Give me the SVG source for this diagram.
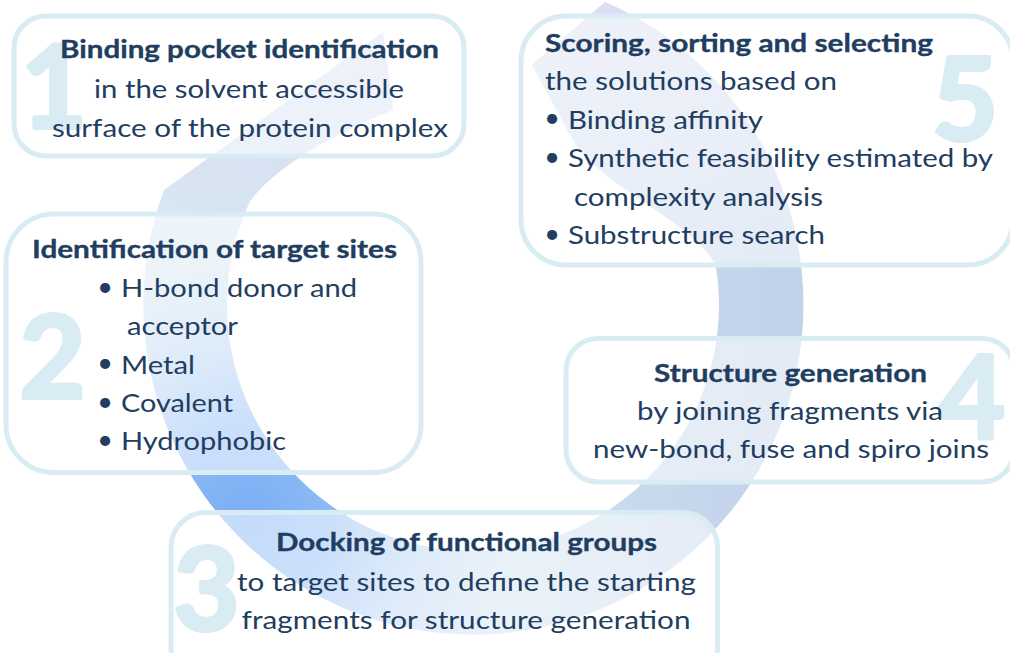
<svg xmlns="http://www.w3.org/2000/svg" width="1010" height="653" viewBox="0 0 1010 653">
<style>
.t{font-family:Lato,"Liberation Sans",sans-serif;fill:#213d5f;font-size:25px}
.b{font-weight:bold;stroke:#213d5f;stroke-width:0.35}
.c{text-anchor:middle}
.bu{font-family:Lato,"Liberation Sans",sans-serif;fill:#213d5f;font-size:27px;text-anchor:middle}
.n{font-family:Lato,"Liberation Sans",sans-serif;font-weight:bold;font-size:114px;fill:#d9ecf3;stroke:#d9ecf3;stroke-width:4;stroke-linejoin:round;text-anchor:middle}
.box{fill:#ffffff;fill-opacity:0.55;stroke:#d9ecf3;stroke-width:5}
</style>
<defs>
<linearGradient id="gBase" gradientUnits="userSpaceOnUse" x1="170" y1="250" x2="780" y2="250">
<stop offset="0" stop-color="#d7e7f2"/>
<stop offset="0.6" stop-color="#cddff0"/>
<stop offset="1" stop-color="#c2d2ea"/>
</linearGradient>
<linearGradient id="gTop" gradientUnits="userSpaceOnUse" x1="0" y1="0" x2="0" y2="260">
<stop offset="0" stop-color="#dcdff3" stop-opacity="1"/>
<stop offset="1" stop-color="#dcdff3" stop-opacity="0"/>
</linearGradient>
<radialGradient id="gBlue" gradientUnits="userSpaceOnUse" cx="245" cy="515" r="260">
<stop offset="0" stop-color="#7aaef4" stop-opacity="1"/>
<stop offset="0.35" stop-color="#8ab8f5" stop-opacity="0.95"/>
<stop offset="1" stop-color="#a9cbf5" stop-opacity="0"/>
</radialGradient>
<path id="ring" d="M383,32 L164,190 A330,330 0 1 0 605,2 L532,65 L573,140 C598,186 711,231 716.6,270.8 A246,246 0 1 1 250,201 C275,168 330,135 393,110 Z"/>
</defs>
<g id="connectors">
<use href="#ring" fill="url(#gBase)"/>
<use href="#ring" fill="url(#gTop)"/>
<use href="#ring" fill="url(#gBlue)"/>
</g>
<g id="node1">
<rect class="box" x="14" y="16" width="450" height="140" rx="32"/>
<text class="n" x="54" y="128">1</text>
<text class="t b c" x="249.5" y="58" textLength="379" lengthAdjust="spacingAndGlyphs">Binding pocket identification</text>
<text class="t c" x="249" y="98" textLength="310" lengthAdjust="spacingAndGlyphs">in the solvent accessible</text>
<text class="t c" x="250" y="137" textLength="396" lengthAdjust="spacingAndGlyphs">surface of the protein complex</text>
</g>
<g id="node5">
<rect class="box" x="521" y="16" width="492" height="249" rx="45"/>
<text class="n" x="965" y="140">5</text>
<text class="t b" x="545" y="52" textLength="388" lengthAdjust="spacingAndGlyphs">Scoring, sorting and selecting</text>
<text class="t" x="545" y="90" textLength="292" lengthAdjust="spacingAndGlyphs">the solutions based on</text>
<text class="bu" x="552" y="127">•</text>
<text class="t" x="568" y="128.5" textLength="195" lengthAdjust="spacingAndGlyphs">Binding affinity</text>
<text class="bu" x="552" y="165.5">•</text>
<text class="t" x="568" y="167" textLength="425" lengthAdjust="spacingAndGlyphs">Synthetic feasibility estimated by</text>
<text class="t" x="574" y="205.5" textLength="249" lengthAdjust="spacingAndGlyphs">complexity analysis</text>
<text class="bu" x="552" y="242.5">•</text>
<text class="t" x="568" y="244" textLength="257" lengthAdjust="spacingAndGlyphs">Substructure search</text>
</g>
<g id="node2">
<rect class="box" x="6" y="214" width="415" height="258.5" rx="48"/>
<text class="n" x="52.5" y="398">2</text>
<text class="t b c" x="214.5" y="258" textLength="365" lengthAdjust="spacingAndGlyphs">Identification of target sites</text>
<text class="bu" x="105" y="295.5">•</text>
<text class="t" x="121" y="297" textLength="236" lengthAdjust="spacingAndGlyphs">H-bond donor and</text>
<text class="t" x="127" y="335" textLength="111" lengthAdjust="spacingAndGlyphs">acceptor</text>
<text class="bu" x="105" y="372">•</text>
<text class="t" x="121" y="373.5" textLength="74" lengthAdjust="spacingAndGlyphs">Metal</text>
<text class="bu" x="105" y="410.5">•</text>
<text class="t" x="121" y="412" textLength="112" lengthAdjust="spacingAndGlyphs">Covalent</text>
<text class="bu" x="105" y="448.5">•</text>
<text class="t" x="121" y="450" textLength="165" lengthAdjust="spacingAndGlyphs">Hydrophobic</text>
</g>
<g id="node4">
<rect class="box" x="566" y="338.5" width="448" height="143.5" rx="32"/>
<text class="n" x="972" y="438">4</text>
<text class="t b c" x="790.5" y="382" textLength="273" lengthAdjust="spacingAndGlyphs">Structure generation</text>
<text class="t c" x="790" y="420" textLength="306" lengthAdjust="spacingAndGlyphs">by joining fragments via</text>
<text class="t c" x="791" y="458" textLength="396" lengthAdjust="spacingAndGlyphs">new-bond, fuse and spiro joins</text>
</g>
<g id="node3">
<rect class="box" x="171" y="512.5" width="546.5" height="170" rx="35"/>
<text class="n" x="206.5" y="630">3</text>
<text class="t b c" x="466.5" y="551" textLength="381" lengthAdjust="spacingAndGlyphs">Docking of functional groups</text>
<text class="t c" x="466.5" y="590.5" textLength="459" lengthAdjust="spacingAndGlyphs">to target sites to define the starting</text>
<text class="t c" x="466" y="628.5" textLength="449" lengthAdjust="spacingAndGlyphs">fragments for structure generation</text>
</g>
</svg>
